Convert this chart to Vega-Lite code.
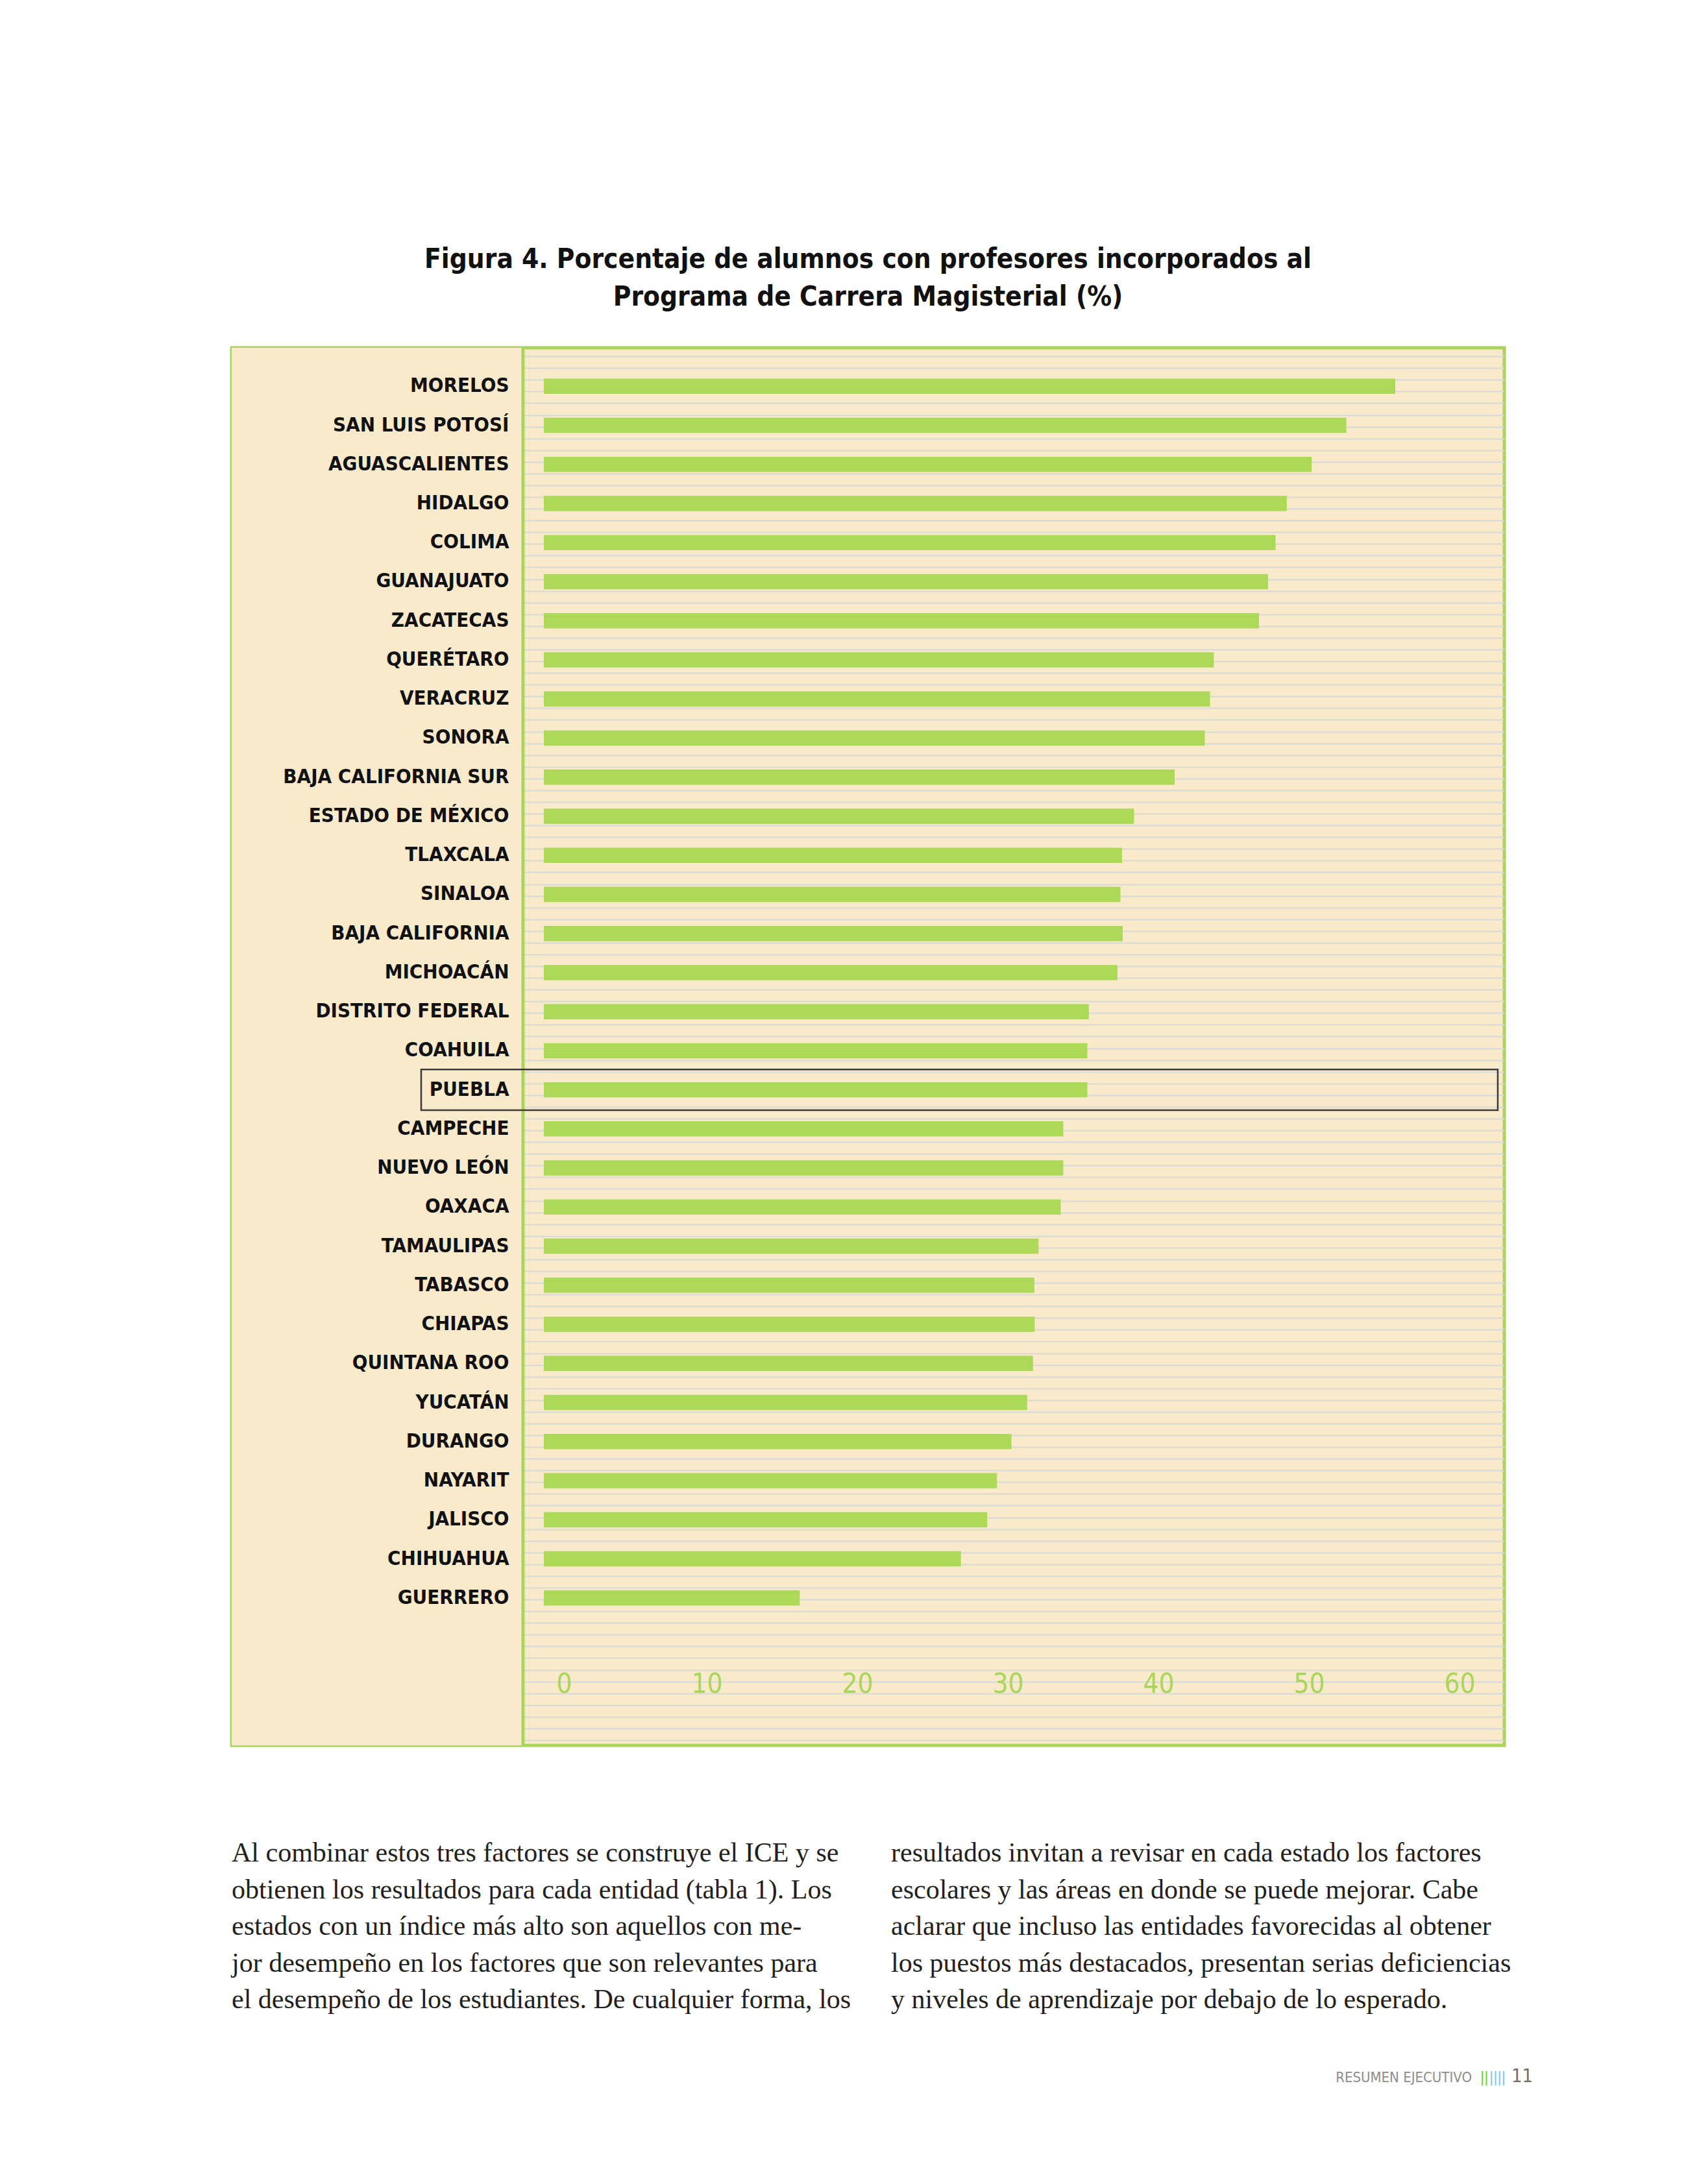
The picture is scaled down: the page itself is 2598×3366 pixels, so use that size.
{
  "$schema": "https://vega.github.io/schema/vega-lite/v6.json",
  "background": "#ffffff",
  "padding": {"left": 354, "top": 376, "right": 240, "bottom": 100},
  "spacing": 140,
  "vconcat": [
    {
      "width": 1961,
      "height": 2154,
      "view": {"fill": "#F9EACB", "stroke": "#A9D55A", "strokeWidth": 5},
      "title": {
        "text": ["Figura 4. Porcentaje de alumnos con profesores incorporados al", "Programa de Carrera Magisterial (%)"],
        "font": "DejaVu Sans Condensed, Liberation Sans Narrow, sans-serif",
        "fontSize": 42,
        "fontWeight": "bold",
        "lineHeight": 58,
        "anchor": "middle",
        "frame": "group",
        "offset": 54,
        "color": "#111111"
      },
      "data": {
        "values": [
          {"estado": "Morelos", "pct": 56.55},
          {"estado": "San Luis Potosí", "pct": 53.3},
          {"estado": "Aguascalientes", "pct": 51.0},
          {"estado": "Hidalgo", "pct": 49.35},
          {"estado": "Colima", "pct": 48.6},
          {"estado": "Guanajuato", "pct": 48.1},
          {"estado": "Zacatecas", "pct": 47.5},
          {"estado": "Querétaro", "pct": 44.5},
          {"estado": "Veracruz", "pct": 44.25},
          {"estado": "Sonora", "pct": 43.9},
          {"estado": "Baja California Sur", "pct": 41.9},
          {"estado": "Estado de México", "pct": 39.2},
          {"estado": "Tlaxcala", "pct": 38.4},
          {"estado": "Sinaloa", "pct": 38.3},
          {"estado": "Baja California", "pct": 38.45},
          {"estado": "Michoacán", "pct": 38.1},
          {"estado": "Distrito Federal", "pct": 36.2},
          {"estado": "Coahuila", "pct": 36.1},
          {"estado": "Puebla", "pct": 36.1},
          {"estado": "Campeche", "pct": 34.5},
          {"estado": "Nuevo León", "pct": 34.5},
          {"estado": "Oaxaca", "pct": 34.33},
          {"estado": "Tamaulipas", "pct": 32.86},
          {"estado": "Tabasco", "pct": 32.58},
          {"estado": "Chiapas", "pct": 32.6},
          {"estado": "Quintana Roo", "pct": 32.49},
          {"estado": "Yucatán", "pct": 32.1},
          {"estado": "Durango", "pct": 31.06},
          {"estado": "Nayarit", "pct": 30.1},
          {"estado": "Jalisco", "pct": 29.45},
          {"estado": "Chihuahua", "pct": 27.7},
          {"estado": "Guerrero", "pct": 17.0}
        ]
      },
      "resolve": {"scale": {"y": "independent"}, "axis": {"y": "independent"}},
      "layer": [
        {
          "mark": {"type": "point", "opacity": 0},
          "encoding": {
            "y": {
              "field": "pct",
              "type": "quantitative",
              "scale": {"domain": [-0.4426, 118.727], "nice": false, "zero": false},
              "axis": {
                "orient": "right",
                "grid": true,
                "gridColor": "#D8D8D6",
                "gridWidth": 2,
                "labels": false,
                "ticks": false,
                "domain": false,
                "title": null,
                "tickCount": 120,
                "zindex": 0
              }
            }
          }
        },
        {
          "layer": [
            {
              "data": {"values": [{}]},
              "mark": {"type": "rect", "color": "#F9EACB"},
              "encoding": {
                "x": {"datum": -20.733, "type": "quantitative"},
                "x2": {"datum": -1.379}
              }
            },
            {
              "data": {"values": [{}]},
              "mark": {"type": "rule", "color": "#A9D55A", "strokeWidth": 5},
              "encoding": {
                "x": {"datum": -1.379, "type": "quantitative"}
              }
            },
            {
              "mark": {"type": "bar", "color": "#ADD958"},
              "encoding": {
                "y": {
                  "field": "estado",
                  "type": "nominal",
                  "sort": null,
                  "scale": {"paddingInner": 0.61, "paddingOuter": 0, "range": [47.55, 1938.5]},
                  "axis": {
                    "orient": "left",
                    "labelExpr": "upper(datum.label)",
                    "labelFont": "DejaVu Sans Condensed, Liberation Sans Narrow, sans-serif",
                    "labelFontSize": 31,
                    "labelFontWeight": "bold",
                    "labelColor": "#111111",
                    "labelPadding": -427,
                    "labelAlign": "right",
                    "labelBaseline": "middle",
                    "ticks": false,
                    "tickSize": 0,
                    "domain": false,
                    "grid": false,
                    "title": null,
                    "labelLimit": 0,
                    "labelOverlap": false,
                    "labelBound": false,
                    "zindex": 2
                  }
                },
                "x": {
                  "field": "pct",
                  "type": "quantitative",
                  "scale": {"domain": [-20.733, 63.793], "nice": false, "zero": false},
                  "axis": {
                    "values": [0, 10, 20, 30, 40, 50, 60],
                    "orient": "bottom",
                    "offset": -95,
                    "labelAlign": "right",
                    "labelOffset": 43,
                    "labelBaseline": "middle",
                    "labelPadding": 0,
                    "tickSize": 0,
                    "ticks": false,
                    "domain": false,
                    "grid": false,
                    "title": null,
                    "labelFont": "DejaVu Sans Condensed, Liberation Sans Narrow, sans-serif",
                    "labelFontSize": 42,
                    "labelColor": "#A8D65A",
                    "labelFlush": false,
                    "labelOverlap": false,
                    "labelBound": false,
                    "zindex": 2
                  }
                }
              }
            },
            {
              "transform": [{"filter": "datum.estado === 'Puebla'"}],
              "mark": {"type": "bar", "filled": false, "color": "#3A3A3A", "strokeWidth": 2.5, "height": {"band": 2.68}},
              "encoding": {
                "y": {"field": "estado", "type": "nominal", "sort": null},
                "x": {"datum": -8.147, "type": "quantitative"},
                "x2": {"datum": 63.36}
              }
            }
          ]
        }
      ]
    },
    {
      "width": 1961,
      "height": 339.6,
      "view": {"stroke": null, "fill": null},
      "layer": [
        {
          "data": {
            "values": [
              {"columna": "izquierda", "linea": 1, "texto": "Al combinar estos tres factores se construye el ICE y se"},
              {"columna": "izquierda", "linea": 2, "texto": "obtienen los resultados para cada entidad (tabla 1). Los"},
              {"columna": "izquierda", "linea": 3, "texto": "estados con un índice más alto son aquellos con me-"},
              {"columna": "izquierda", "linea": 4, "texto": "jor desempeño en los factores que son relevantes para"},
              {"columna": "izquierda", "linea": 5, "texto": "el desempeño de los estudiantes. De cualquier forma, los"},
              {"columna": "derecha", "linea": 1, "texto": "resultados invitan a revisar en cada estado los factores"},
              {"columna": "derecha", "linea": 2, "texto": "escolares y las áreas en donde se puede mejorar. Cabe"},
              {"columna": "derecha", "linea": 3, "texto": "aclarar que incluso las entidades favorecidas al obtener"},
              {"columna": "derecha", "linea": 4, "texto": "los puestos más destacados, presentan serias deficiencias"},
              {"columna": "derecha", "linea": 5, "texto": "y niveles de aprendizaje por debajo de lo esperado."}
            ]
          },
          "mark": {"type": "text", "align": "left", "baseline": "alphabetic", "font": "Liberation Serif", "fontSize": 42, "color": "#231F20"},
          "encoding": {
            "x": {"field": "columna", "type": "nominal", "bandPosition": 0, "scale": {"type": "band", "domain": ["izquierda", "derecha"], "paddingInner": 0.07, "paddingOuter": 0}, "axis": null},
            "y": {"field": "linea", "type": "ordinal", "scale": {"type": "point", "domain": [1, 2, 3, 4, 5, 6, 7], "padding": 0}, "axis": null},
            "text": {"field": "texto"}
          }
        },
        {
          "data": {"values": [{"columna": "derecha", "linea": 7, "texto": "RESUMEN EJECUTIVO"}]},
          "mark": {"type": "text", "align": "right", "baseline": "alphabetic", "dx": -50, "font": "DejaVu Sans Condensed, sans-serif", "fontSize": 22, "color": "#8C8C8C"},
          "encoding": {
            "x": {"field": "columna", "type": "nominal", "bandPosition": 1},
            "y": {"field": "linea", "type": "ordinal"},
            "text": {"field": "texto"}
          }
        },
        {
          "data": {"values": [{"columna": "derecha", "linea": 7, "texto": "||"}]},
          "mark": {"type": "text", "align": "left", "baseline": "alphabetic", "dx": -37, "font": "Liberation Sans", "fontSize": 24, "letterSpacing": 1, "color": "#5EDB2B"},
          "encoding": {
            "x": {"field": "columna", "type": "nominal", "bandPosition": 1},
            "y": {"field": "linea", "type": "ordinal"},
            "text": {"field": "texto"}
          }
        },
        {
          "data": {"values": [{"columna": "derecha", "linea": 7, "texto": "||||"}]},
          "mark": {"type": "text", "align": "left", "baseline": "alphabetic", "dx": -23, "font": "Liberation Sans", "fontSize": 24, "letterSpacing": 1, "color": "#7CC6F2"},
          "encoding": {
            "x": {"field": "columna", "type": "nominal", "bandPosition": 1},
            "y": {"field": "linea", "type": "ordinal"},
            "text": {"field": "texto"}
          }
        },
        {
          "data": {"values": [{"columna": "derecha", "linea": 7, "texto": "11"}]},
          "mark": {"type": "text", "align": "left", "baseline": "alphabetic", "dx": 11, "font": "DejaVu Sans Condensed, sans-serif", "fontSize": 29, "color": "#6E6E6E"},
          "encoding": {
            "x": {"field": "columna", "type": "nominal", "bandPosition": 1},
            "y": {"field": "linea", "type": "ordinal"},
            "text": {"field": "texto"}
          }
        }
      ]
    }
  ]
}
